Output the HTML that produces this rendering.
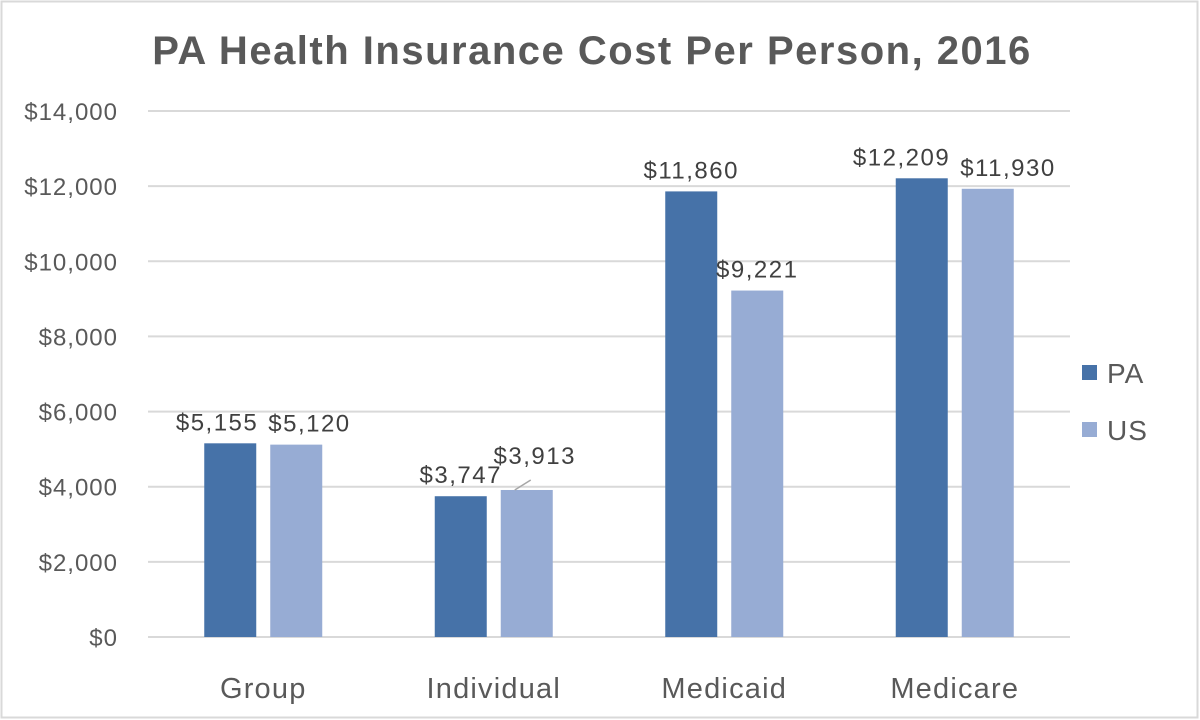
<!DOCTYPE html>
<html><head><meta charset="utf-8"><style>
body{margin:0;background:#fff;}
svg{display:block;font-family:"Liberation Sans",sans-serif;}
</style></head><body>
<svg id="chart" width="1200" height="720">
<rect x="1.5" y="1.5" width="1196" height="716" fill="#fff" stroke="#d9d9d9" stroke-width="2"/>
<text x="592" y="64" text-anchor="middle" font-size="40" font-weight="bold" letter-spacing="1.5" fill="#595959">PA Health Insurance Cost Per Person, 2016</text>
<g id="grid"></g><g id="bars"></g><g id="labels"></g>
<g>
<rect x="1082" y="365" width="15" height="15" fill="#4672a8"/>
<text x="1107" y="383" font-size="28" letter-spacing="1" fill="#595959">PA</text>
<rect x="1082" y="422" width="15" height="15" fill="#97acd4"/>
<text x="1107" y="440" font-size="28" letter-spacing="1" fill="#595959">US</text>
</g>
</svg>
<script>
const categories=["Group","Individual","Medicaid","Medicare"];
const paValues=[5155,3747,11860,12209];
const usValues=[5120,3913,9221,11930];
const yTicks=[0,2000,4000,6000,8000,10000,12000,14000];
const NS="http://www.w3.org/2000/svg";
const x0=148,x1=1070,yBase=637,yTop=111,yMax=14000;
const y=v=>yBase-(v/yMax)*(yBase-yTop);
const bw=(x1-x0)/categories.length;
const cx=i=>x0+bw*(i+0.5);
const fmt=v=>"$"+v.toLocaleString("en-US");
function mk(tag,attrs,parent,txt){const e=document.createElementNS(NS,tag);for(const k in attrs)e.setAttribute(k,attrs[k]);if(txt!==undefined)e.textContent=txt;document.getElementById(parent).appendChild(e);return e;}
yTicks.forEach(t=>{
 const l=mk("line",{x1:x0,x2:x1,y1:y(t),y2:y(t),stroke:"#d9d9d9","stroke-width":2},"grid");
 
 
 const tx=mk("text",{x:118,y:y(t)+9,"text-anchor":"end","font-size":24,"letter-spacing":1,fill:"#595959"},"grid",fmt(t));
 
 
});
const LBL={"font-size":24,"letter-spacing":1.5,fill:"#404040","text-anchor":"middle"};
categories.forEach((c,i)=>{
 const pcx=cx(i)-33,ucx=cx(i)+33;
 const pb=mk("rect",{x:pcx-26,y:y(paValues[i]),width:52,height:yBase-y(paValues[i]),fill:"#4672a8"},"bars");
 
 
 const ub=mk("rect",{x:ucx-26,y:y(usValues[i]),width:52,height:yBase-y(usValues[i]),fill:"#97acd4"},"bars");
 
 
 const py=y(paValues[i])-13, uyBase=y(usValues[i])-13;
 const pl=mk("text",Object.assign({x:pcx,y:py},LBL),"labels",fmt(paValues[i]));
 
 
 const ul=mk("text",Object.assign({x:ucx,y:uyBase},LBL),"labels",fmt(usValues[i]));
 
 
 const pw=pl.getBBox().width,uw=ul.getBBox().width;
 const gap=(ucx-uw/2)-(pcx+pw/2);
 const vOverlap=Math.abs(py-uyBase)<26;
 if(vOverlap&&gap<10){
  if(usValues[i]>paValues[i]){
   ul.setAttribute('y',y(usValues[i])-26);ul.setAttribute('x',ucx+8);
   const ld=mk("line",{x1:ucx-12,y1:y(usValues[i]),x2:ucx+4,y2:y(usValues[i])-10,stroke:"#a6a6a6","stroke-width":1.5},"labels");
   
   
  } else {
   const sh=(10-gap)/2;
   pl.setAttribute('x',pcx-sh);ul.setAttribute('x',ucx+sh);
  }
 }
 const cl=mk("text",{x:cx(i),y:698,"text-anchor":"middle","font-size":29,"letter-spacing":1.2,fill:"#595959"},"labels",c);
 
 
});
</script>
</body></html>
